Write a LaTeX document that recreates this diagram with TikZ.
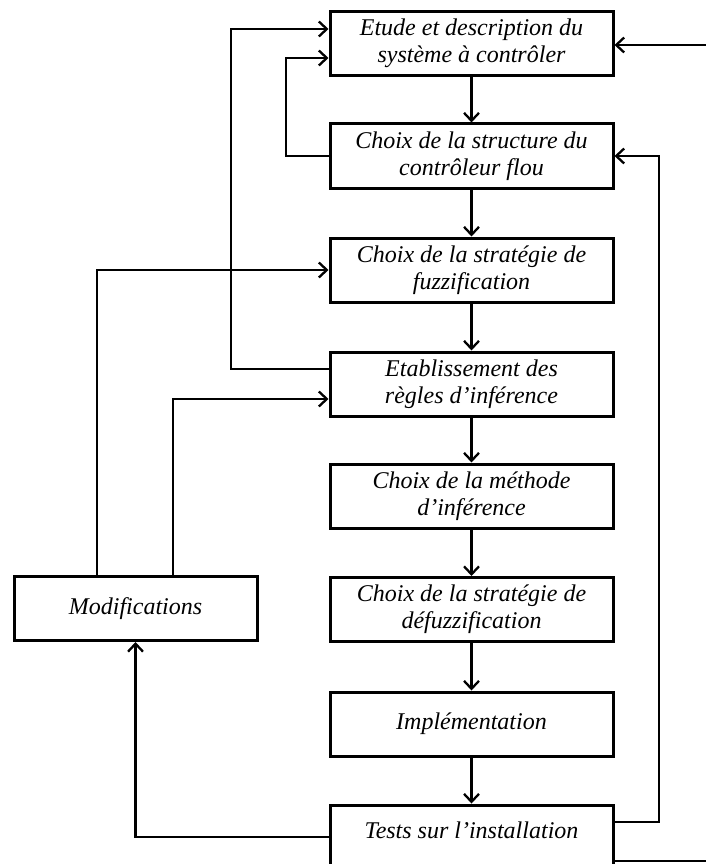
\documentclass[tikz,border=0pt]{standalone}
\usepackage{fontspec}
\setmainfont{Liberation Serif}
\usetikzlibrary{arrows.meta}

\tikzset{
  etape/.style={draw,line width=3pt,minimum width=283pt,minimum height=64pt,inner sep=0pt,
    align=center,font=\fontsize{24}{27}\selectfont\itshape},
  fleche/.style={line width=2.3pt,-{Straight Barb[length=8pt,width=15pt,line width=2.3pt]}},
  trait/.style={line width=2.3pt}
}

\begin{document}
\begin{tikzpicture}[x=1pt,y=-1pt]
            \useasboundingbox (0,0) rectangle (706,864);
            \node[etape] (etude) at (471.5,43.5) {Etude et description du\\système à contrôler};
            \node[etape] (struct) at (471.5,156) {Choix de la structure du\\contrôleur flou};
            \node[etape] (fuzz) at (471.5,270) {Choix de la stratégie de\\fuzzification};
            \node[etape] (regles) at (471.5,384) {Etablissement des\\règles d’inférence};
            \node[etape] (methode) at (471.5,496) {Choix de la méthode\\d’inférence};
            \node[etape] (defuzz) at (471.5,609.5) {Choix de la stratégie de\\défuzzification};
            \node[etape] (impl) at (471.5,724) {Implémentation};
            \node[etape] (tests) at (471.5,837) {};
            \node[font=\fontsize{24}{27}\selectfont\itshape] (testtxt) at (471.5,830) {Tests sur l’installation};
            \node[etape,minimum width=243pt] (modif) at (135.5,608.5) {Modifications};
            \coordinate (entree) at (706,45);
            \coordinate (sortie) at (706,861);
            % chaine principale
            \draw[fleche] (etude)--(struct);
            \draw[fleche] (struct)--(fuzz);
            \draw[fleche] (fuzz)--(regles);
            \draw[fleche] (regles)--(methode);
            \draw[fleche] (methode)--(defuzz);
            \draw[fleche] (defuzz)--(impl);
            \draw[fleche] (impl)--(tests);
            % retours
            \draw[fleche] (entree)--(entree-|etude.east);
            \draw[fleche] (regles.west|-0,369)--(231,369)--(231,29)--(etude.west|-0,29);
            \draw[fleche] (struct.west)--(286,156)--(286,58)--(etude.west|-0,58);
            \draw[fleche] (modif.north-|97,0)--(97,270)--(fuzz.west);
            \draw[fleche] (modif.north-|173,0)--(173,399)--(regles.west|-0,399);
            \draw[fleche] (tests.west|-0,837)--(modif.south|-0,837)--(modif.south);
            \draw[fleche] (tests.east|-0,822)--(659,822)--(659,156)--(struct.east);
            \draw[trait] (tests.east|-sortie)--(sortie);
        \end{tikzpicture}
\end{document}
